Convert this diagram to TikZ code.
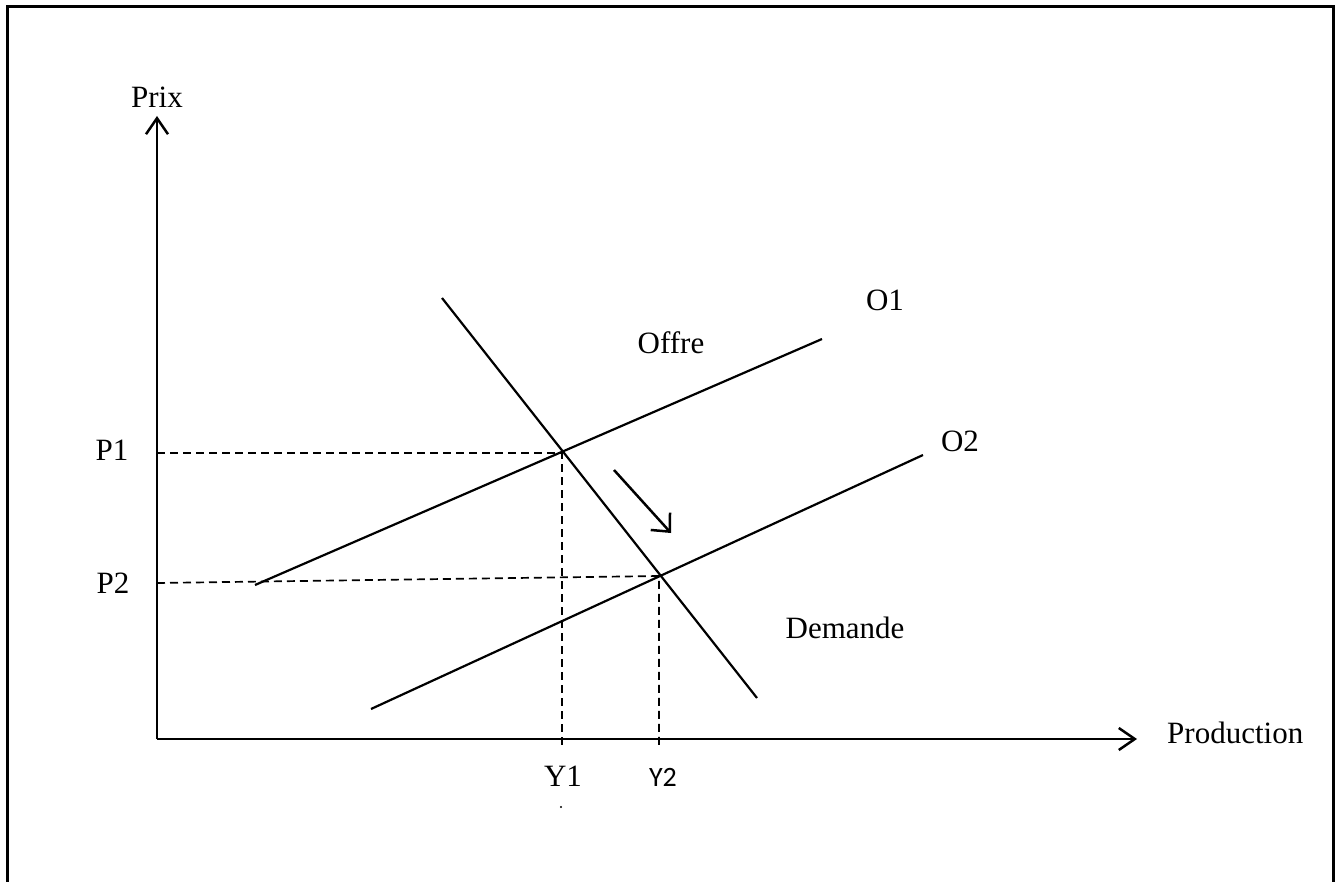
\documentclass[tikz,border=0pt]{standalone}
\usepackage{fontspec}
\setmainfont{Liberation Serif}
\newfontfamily\calibrilike{Carlito}
\usetikzlibrary{arrows.meta, positioning}

\tikzset{
  courbe/.style={line width=2.2pt},
  axe/.style={line width=2.5pt, -{Straight Barb[length=16pt, width=22pt, line width=2.5pt]}},
  repere/.style={line width=1.7pt, dash pattern=on 8pt off 5pt},
  lbl/.style={font=\fontsize{31}{36}\selectfont, inner sep=0pt}
}

\begin{document}
\begin{tikzpicture}[x=1pt, y=-1pt]
				\useasboundingbox (0,0) rectangle (1338,882);
				\draw[line width=3pt] (7,882) -- (7,7) -- (1333,7) -- (1333,882);
				% axes
				\coordinate (O) at (157,739);
				\coordinate (ytip) at (157,116);
				\coordinate (xtip) at (1137,739);
				\draw[axe] (O) -- (ytip);
				\draw[axe] (O) -- (xtip);
				\node[lbl] (prix) at (157,97) {Prix};
				\node[lbl, anchor=west] (prod) at (1167,733) {Production};
				% offre et demande
				\coordinate (o1a) at (255,585);
				\coordinate (o1b) at (822,339);
				\coordinate (o2a) at (371,709);
				\coordinate (o2b) at (923,455);
				\coordinate (da) at (442,298);
				\coordinate (db) at (757,698);
				\draw[courbe] (o1a) -- (o1b);
				\draw[courbe] (o2a) -- (o2b);
				\draw[courbe] (da) -- (db);
				\coordinate (E1) at (562,453);
				\coordinate (E2) at (659,576);
				% pointilles vers les axes
				\coordinate (p2) at (157,583);
				\draw[repere] (O |- E1) -- (E1) -- (562,746);
				\draw[repere] (p2) -- (E2) -- (659,746);
				% deplacement de l'equilibre
				\coordinate (fa) at (614,470);
				\coordinate (fb) at (671,533);
				\draw[line width=2.5pt, -{Straight Barb[length=14pt, width=26pt, line width=2.5pt]}] (fa) -- (fb);
				\node[lbl] (o1) at (885,300) {O1};
				\node[lbl] (offre) at (671,343) {Offre};
				\node[lbl] (o2) at (960,441) {O2};
				\node[lbl] (dem) at (845,628) {Demande};
				\node[lbl] (p1lbl) at (112,450) {P1};
				\node[lbl] (p2lbl) at (113,583) {P2};
				\node[lbl] (y1) at (563,776) {Y1};
				\node[lbl, font=\calibrilike\fontsize{28}{34}\selectfont] (y2) at (663,777) {Y2};
				\fill (561,807) circle (1.2pt);
			\end{tikzpicture}
\end{document}
